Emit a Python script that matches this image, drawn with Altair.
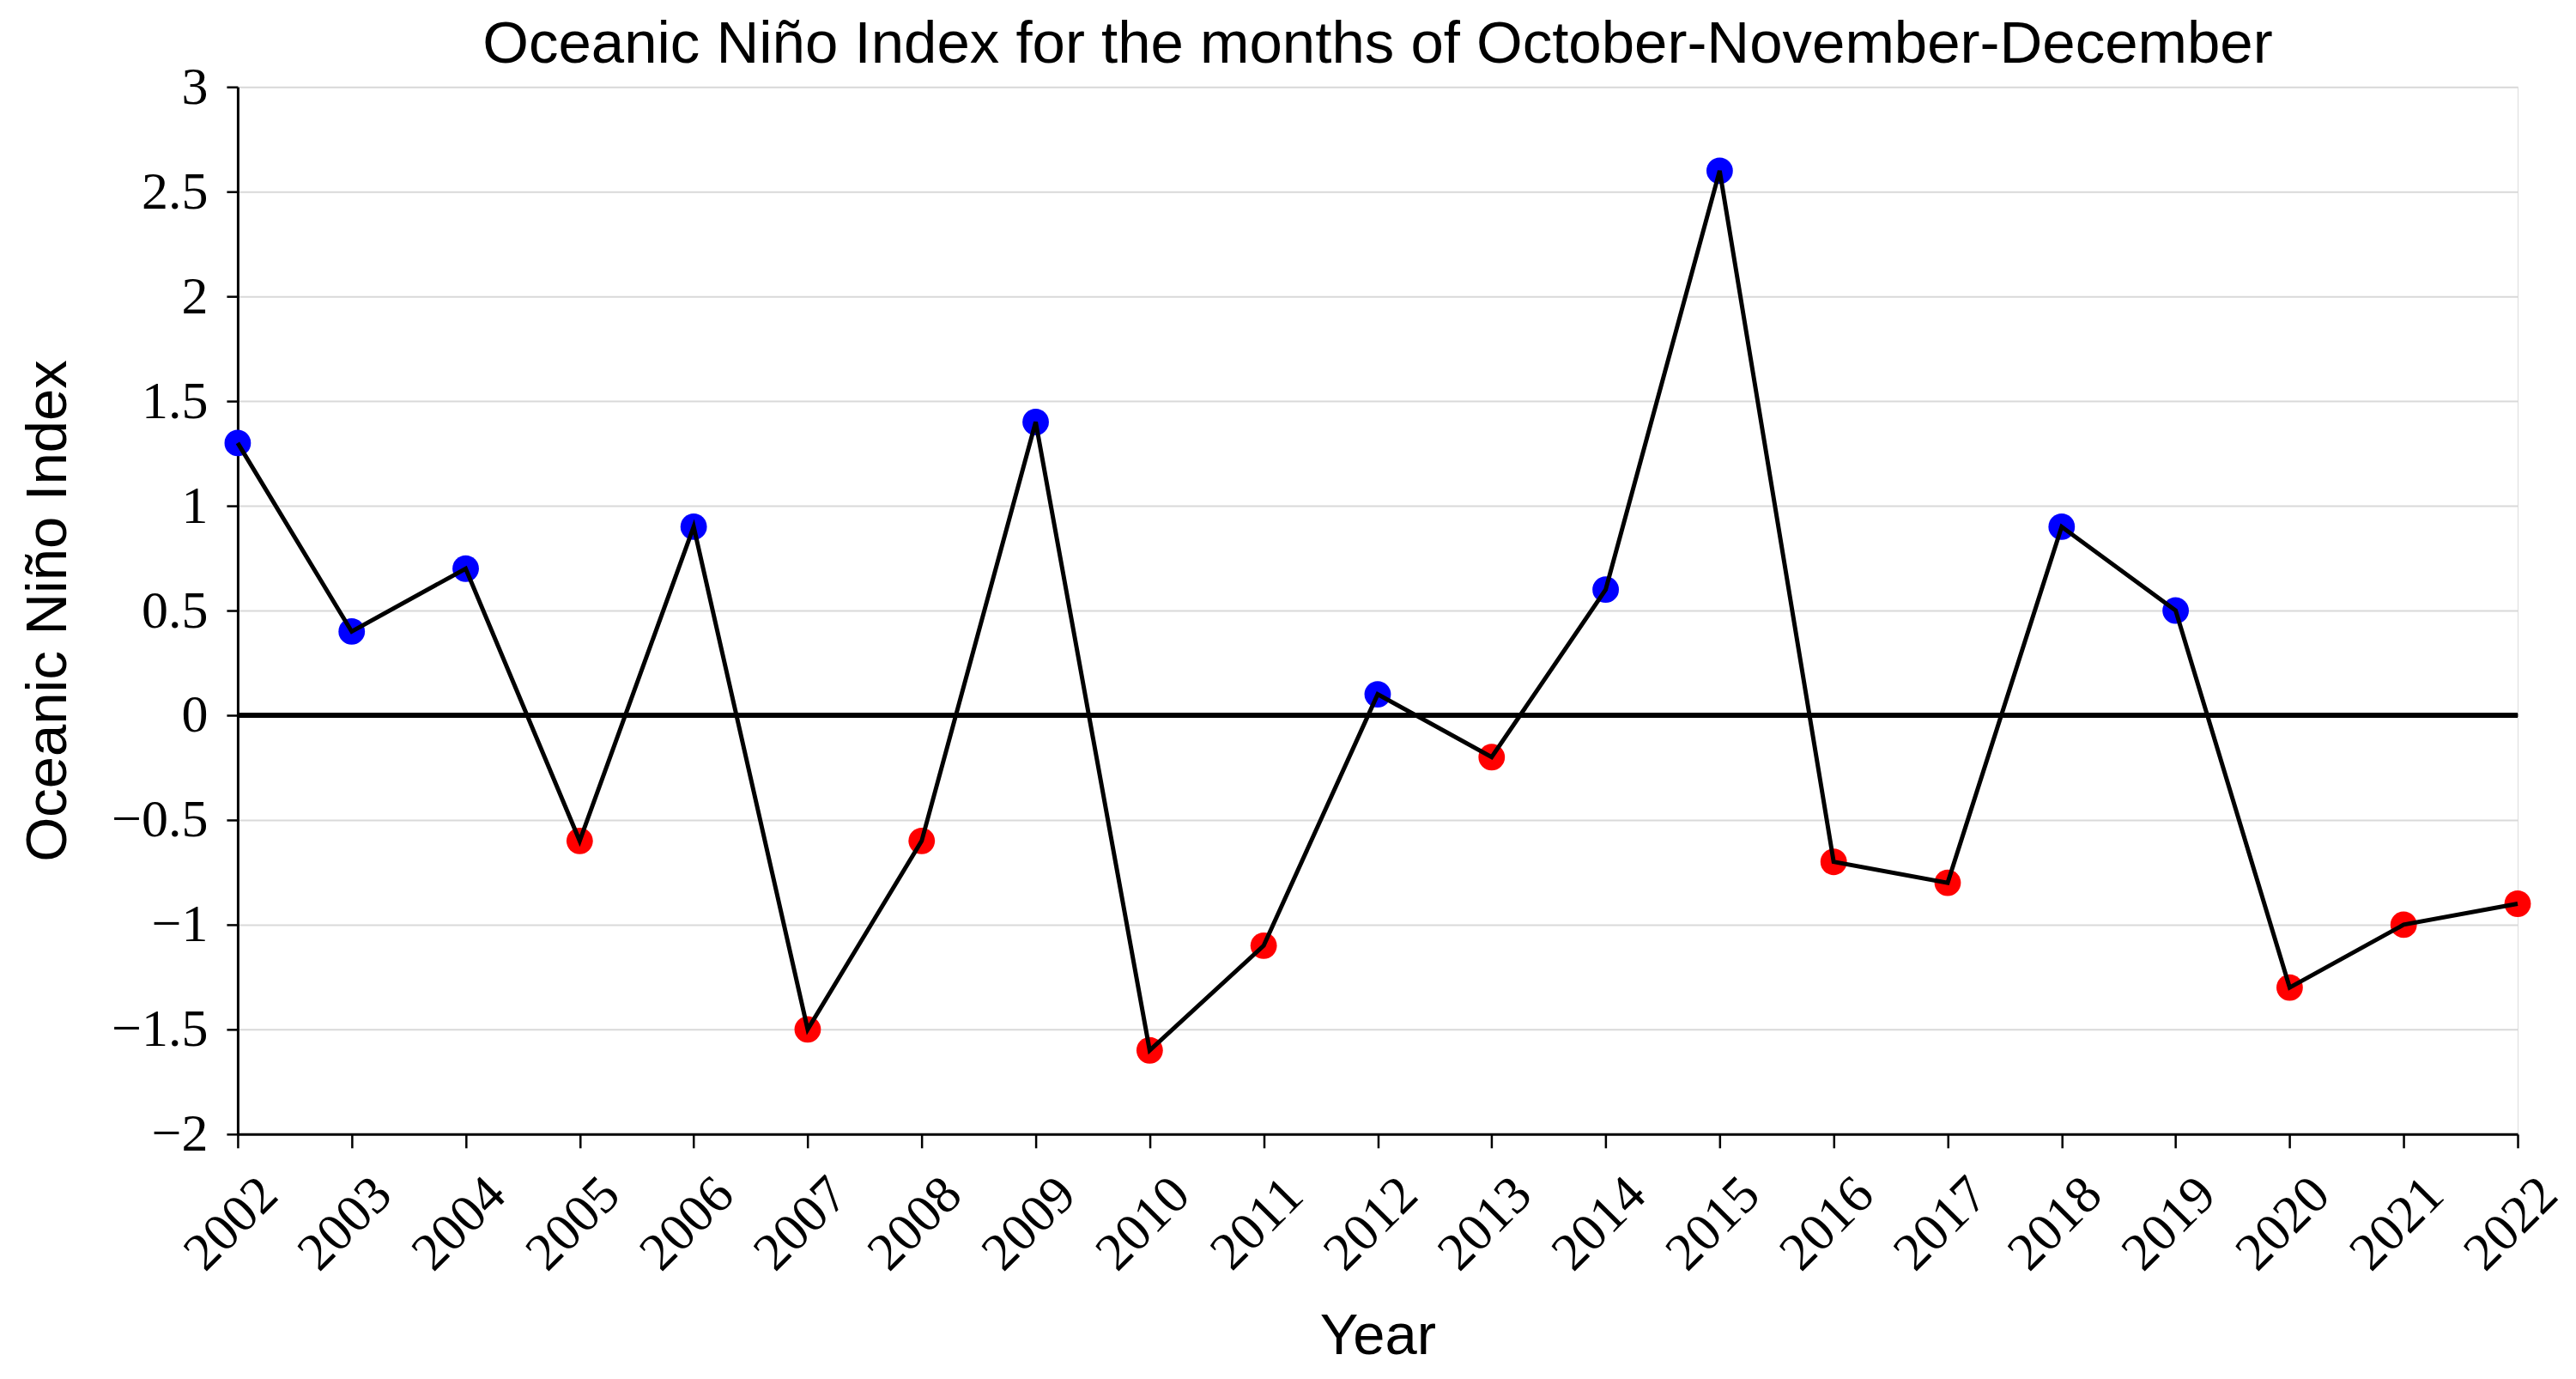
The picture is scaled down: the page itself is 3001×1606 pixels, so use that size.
import altair as alt
import pandas as pd

years = list(range(2002, 2023))
oni = [1.3, 0.4, 0.7, -0.6, 0.9, -1.5, -0.6, 1.4, -1.6, -1.1, 0.1, -0.2,
       0.6, 2.6, -0.7, -0.8, 0.9, 0.5, -1.3, -1.0, -0.9]
phase = ["El Niño" if v > 0 else "La Niña" for v in oni]
y_ticks = [-2, -1.5, -1, -0.5, 0, 0.5, 1, 1.5, 2, 2.5, 3]
title_text = "Oceanic Niño Index for the months of October-November-December"

df = pd.DataFrame({"Year": years, "ONI": oni, "Phase": phase})

W, H = 2657, 1220
serif = "Liberation Serif"
sans = "Liberation Sans"

x = alt.X("Year:Q",
          scale=alt.Scale(domain=[2002, 2022], nice=False, zero=False),
          axis=alt.Axis(values=years, format="d", title="Year", grid=False,
                        labelAngle=315, labelAlign="center", labelBaseline="middle",
                        labelPadding=88, labelOffset=-8, labelFont=serif, labelFontSize=62,
                        labelColor="black", tickSize=16, tickWidth=2.5, tickColor="black",
                        domainColor="black", domainWidth=3,
                        titleFont=sans, titleFontSize=67, titleFontWeight="normal",
                        titleColor="black", titleX=W / 2, titleY=236,
                        titleAlign="center", titleBaseline="middle",
                        labelOverlap=False))
y = alt.Y("ONI:Q",
          scale=alt.Scale(domain=[-2, 3], nice=False, zero=False),
          axis=alt.Axis(values=y_ticks, format="~g", title="Oceanic Niño Index",
                        grid=True, gridColor="#d9d9d9", gridWidth=2,
                        labelFont=serif, labelFontSize=62, labelColor="black",
                        labelPadding=22, tickSize=13, tickWidth=2.5, tickColor="black",
                        domainColor="black", domainWidth=3,
                        titleFont=sans, titleFontSize=67, titleFontWeight="normal",
                        titleColor="black", titleX=-220, titleY=H / 2,
                        titleAlign="center", titleBaseline="middle", titleAngle=270,
                        labelOverlap=False))

points = alt.Chart(df).mark_point(filled=True, size=950, opacity=1, strokeWidth=0).encode(
    x=x, y=y,
    color=alt.Color("Phase:N", scale=alt.Scale(domain=["El Niño", "La Niña"],
                                               range=["#0000ff", "#ff0000"]), legend=None))

zero = alt.Chart(df).mark_rule(color="black", strokeWidth=5.5).encode(y=alt.Y(datum=0))

line = alt.Chart(df).mark_line(color="black", strokeWidth=5).encode(x=x, y=y)

title = alt.Chart(pd.DataFrame({"t": [title_text]})).mark_text(
    font=sans, fontSize=69, color="black", align="center", baseline="alphabetic"
).encode(text="t:N", x=alt.value(W / 2), y=alt.value(-28))

chart = alt.layer(points, zero, line, title).properties(
    width=W, height=H,
    padding={"left": 269, "top": 93, "right": 60, "bottom": 270},
    autosize=alt.AutoSizeParams(type="none"),
).configure_view(strokeWidth=0).configure(background="white")

chart.save("out.html", embed_options={"renderer": "svg", "actions": False})
